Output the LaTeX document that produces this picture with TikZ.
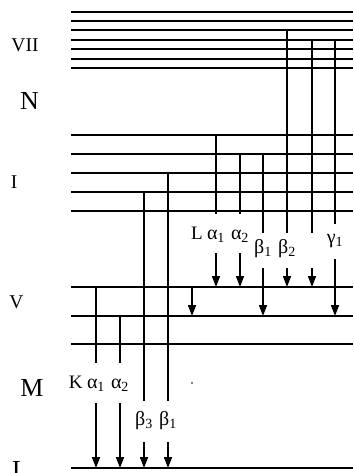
\documentclass[tikz,border=0pt]{standalone}
\usepackage{fontspec}
\setmainfont{Liberation Serif}
\usetikzlibrary{arrows.meta,positioning}

\begin{document}
\begin{tikzpicture}[
    x=1pt, y=-1pt,
    level/.style={line width=1.7pt},
    trans/.style={line width=1.7pt},
    arr/.style={trans, -{Triangle[length=11pt, width=8pt]}},
    lab/.style 2 args={inner sep=0pt, anchor=base, text height=#1, text depth=#2,
                       font=\fontsize{20}{22}\selectfont},
    tag/.style={inner sep=0pt, anchor=base east, font=\fontsize{19}{21}\selectfont},
    sub/.style={inner sep=0pt, anchor=base, font=\fontsize{19.5}{22}\selectfont},
    shell/.style={inner sep=0pt, anchor=base, font=\fontsize{26}{28}\selectfont}
]
\useasboundingbox (0,0) rectangle (353,473);

% energy levels
\foreach \y [count=\i] in {12,21,30,40,49,59,68}
  \draw[level] (71,\y) coordinate (n\i) -- (353,\y);
\foreach \y [count=\i] in {135,154,173,192,211}
  \draw[level] (71,\y) coordinate (m\i) -- (353,\y);
\foreach \y [count=\i] in {287,316,344}
  \draw[level] (71,\y) coordinate (l\i) -- (353,\y);
\draw[level] (71,468) coordinate (k1) -- (353,468);

% shell labels
\node[sub] (sVII) at (25,52) {VII};
\node[shell] (sN) at (29.5,110) {N};
\node[sub] (sI) at (14,188) {I};
\node[sub] (sV) at (16.5,308) {V};
\node[shell] (sM) at (32,396) {M};
\node[shell, anchor=base west] (sL) at (12,478.5) {L};

% L series
\node[lab={25.5pt}{13.5pt}] (La1) at (216,239.5) {α\textsubscript{1}};
\node[lab={25.5pt}{13.5pt}] (La2) at (240,239.5) {α\textsubscript{2}};
\node[lab={20pt}{15pt}] (Lb1) at (263,253) {β\textsubscript{1}};
\node[lab={20pt}{15pt}] (Lb2) at (287,253) {β\textsubscript{2}};
\node[lab={20pt}{15pt}] (Lnn) at (312,253) {};
\node[lab={19pt}{16pt}] (Lg1) at (335,243) {γ\textsubscript{1}};
\node[tag] (Ltag) at ([xshift=-4pt]La1.base west) {L};
\coordinate (Lx) at (192,300);

\draw[trans] (m1 -| La1) -- (La1.north);
\draw[arr] (La1.south) -- (l1 -| La1);
\draw[trans] (m2 -| La2) -- (La2.north);
\draw[arr] (La2.south) -- (l1 -| La2);
\draw[trans] (m2 -| Lb1) -- (Lb1.north);
\draw[arr] (Lb1.south) -- (l2 -| Lb1);
\draw[trans] (n3 -| Lb2) -- (Lb2.north);
\draw[arr] (Lb2.south) -- (l1 -| Lb2);
\draw[trans] (n4 -| Lnn) -- (Lnn.north);
\draw[arr] (Lnn.south) -- (l1 -| Lnn);
\draw[trans] (n4 -| Lg1) -- (Lg1.north);
\draw[arr] (Lg1.south) -- (l2 -| Lg1);
\draw[arr] (l1 -| Lx) -- (l2 -| Lx);

% K series
\node[lab={25pt}{15pt}] (Ka1) at (96,388) {α\textsubscript{1}};
\node[lab={25pt}{15pt}] (Ka2) at (120,388) {α\textsubscript{2}};
\node[lab={24pt}{17pt}] (Kb3) at (144,425) {β\textsubscript{3}};
\node[lab={24pt}{17pt}] (Kb1) at (168,425) {β\textsubscript{1}};
\node[tag] (Ktag) at ([xshift=-4pt]Ka1.base west) {K};

\draw[trans] (l1 -| Ka1) -- (Ka1.north);
\draw[arr] (Ka1.south) -- (k1 -| Ka1);
\draw[trans] (l2 -| Ka2) -- (Ka2.north);
\draw[arr] (Ka2.south) -- (k1 -| Ka2);
\draw[trans] (m4 -| Kb3) -- (Kb3.north);
\draw[arr] (Kb3.south) -- (k1 -| Kb3);
\draw[trans] (m3 -| Kb1) -- (Kb1.north);
\draw[arr] (Kb1.south) -- (k1 -| Kb1);

\fill (192,383) circle (0.8pt);
\end{tikzpicture}
\end{document}
